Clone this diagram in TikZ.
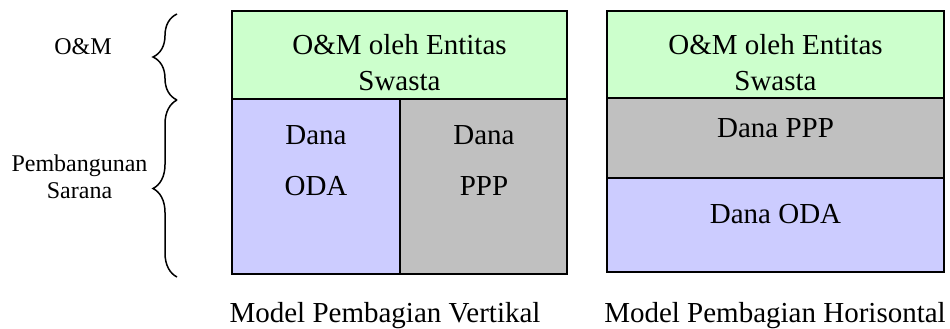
\documentclass[tikz,border=0pt]{standalone}
\usepackage{fontspec}
\setmainfont{Liberation Serif}
\usetikzlibrary{decorations.pathreplacing}

\definecolor{omgreen}{RGB}{204,255,204}
\definecolor{odablue}{RGB}{204,204,255}
\definecolor{pppgrey}{RGB}{192,192,192}

\tikzset{
  part/.style={draw=black, line width=1.4pt},
  txt/.style={anchor=base, inner sep=0pt, font=\fontsize{29}{35}\selectfont},
  side/.style={anchor=base, inner sep=0pt, font=\fontsize{24}{28}\selectfont},
  brc/.style={decorate, decoration={brace, amplitude=24pt}, line width=1.5pt}
}

\begin{document}
\begin{tikzpicture}[x=1pt,y=-1pt]
  \useasboundingbox (0,0) rectangle (950,329);

  % left: vertical split
  \filldraw[part, fill=omgreen] (232,11) rectangle (567,99);
  \filldraw[part, fill=odablue] (232,99) rectangle (400,274);
  \filldraw[part, fill=pppgrey] (400,99) rectangle (567,274);

  % right: horizontal split
  \filldraw[part, fill=omgreen] (607,11) rectangle (944,98);
  \filldraw[part, fill=pppgrey] (607,98) rectangle (944,178);
  \filldraw[part, fill=odablue] (607,178) rectangle (944,272);

  % texts in the blocks
  \node[txt] (omL1) at (399.5,55) {O\&M oleh Entitas};
  \node[txt] (omL2) at (399.5,90) {Swasta};
  \node[txt] (danaL1) at (316,144) {Dana};
  \node[txt] (danaL2) at (316,195) {ODA};
  \node[txt] (pppL1) at (484,144) {Dana};
  \node[txt] (pppL2) at (484,195) {PPP};

  \node[txt] (omR1) at (775.5,55) {O\&M oleh Entitas};
  \node[txt] (omR2) at (775.5,90) {Swasta};
  \node[txt] (pppR) at (775.5,137) {Dana PPP};
  \node[txt] (odaR) at (775.5,223) {Dana ODA};

  % captions
  \node[txt] (capL) at (385,322) {Model Pembagian Vertikal};
  \node[txt] (capR) at (775,322) {Model Pembagian Horisontal};

  % phases on the left
  \node[side] (om) at (83,55) {O\&M};
  \node[side] (bangun1) at (79.5,171) {Pembangunan};
  \node[side] (bangun2) at (79.5,198) {Sarana};

  \coordinate (b1top) at (177,14);
  \coordinate (b1bot) at (177,100);
  \coordinate (b2top) at (177,100);
  \coordinate (b2bot) at (177,277);
  \draw[brc] (b1bot) -- (b1top);
  \draw[brc] (b2bot) -- (b2top);
\end{tikzpicture}
\end{document}
